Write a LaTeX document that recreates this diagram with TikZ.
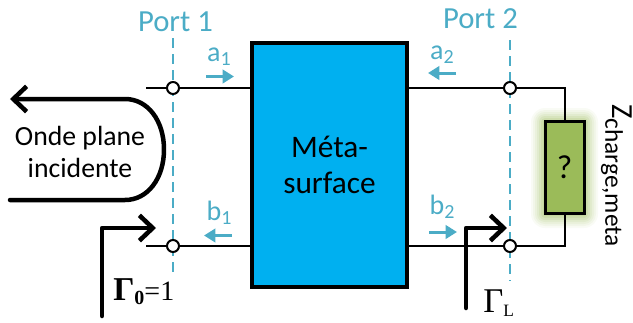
\documentclass[tikz,border=0pt]{standalone}
\usepackage{fontspec}
\setmainfont{Carlito}
\newfontfamily\gamfont{Liberation Serif}
\usetikzlibrary{arrows.meta}
\definecolor{portblue}{HTML}{4BACC6}
\definecolor{blockblue}{HTML}{00B0F0}
\definecolor{loadgreen}{HTML}{9BBB59}
\newcommand{\lowsub}[2]{\raisebox{#1}{#2}}
\tikzset{
  px/.style={line width=#1*0.75pt},
  portline/.style={portblue,px=2,dash pattern=on 7.5pt off 4.5pt},
  wire/.style={black,px=2},
  terminal/.style={circle,draw=black,fill=white,px=2,minimum size=9pt,inner sep=0pt},
  bigarrow/.style={black,px=4.5,line cap=round,line join=round,-{Straight Barb[length=10pt,width=19pt,line width=3.4pt]}},
  wavearrow/.style={bigarrow},
  smallarrow/.style={portblue,px=3,-{Triangle[length=8.5pt,width=10pt]}},
  porttext/.style={portblue,font=\fontsize{23}{23}\selectfont,inner sep=0pt},
  abtext/.style={portblue,font=\fontsize{21}{21}\selectfont,inner sep=0pt},
  wavetext/.style={black,font=\fontsize{20.8}{24}\selectfont,inner sep=0pt,align=center},
  gam/.style={black,font=\gamfont\fontsize{21}{21}\selectfont,inner sep=0pt}
}
\begin{document}
\begin{tikzpicture}[x=0.75pt,y=-0.75pt]
\useasboundingbox (0,0) rectangle (633,322);
% glow
\foreach \g/\o in {14/0.06,12/0.08,10/0.09,8/0.11,6/0.14,4/0.16,2/0.18}{
  \fill[loadgreen,opacity=\o,rounded corners=\g*0.75pt] (545-\g,122-\g) rectangle (584+\g,214+\g);
}
% port lines
\coordinate (p1t) at (173,38); \coordinate (p1b) at (173,277);
\coordinate (p2t) at (510,40); \coordinate (p2b) at (510,281);
\draw[portline] (p1t) -- (p1b);
\draw[portline] (p2t) -- (p2b);
% block
\node[draw=black,fill=blockblue,px=3.5,outer sep=0pt,minimum width=116.25pt,minimum height=183pt,inner sep=0pt,
  anchor=north west,align=center,font=\fontsize{23.5}{27}\selectfont] (ms) at (252,43) {Méta-\\surface};
% terminals
\node[terminal] (t1) at (173,88) {};
\node[terminal] (t2) at (173,246) {};
\node[terminal] (t3) at (510,88) {};
\node[terminal] (t4) at (510,246) {};
\coordinate (w1) at (146,88); \coordinate (w2) at (146,246);
\coordinate (m1) at (252,88); \coordinate (m2) at (252,246);
\coordinate (m3) at (407,88); \coordinate (m4) at (405,246);
\coordinate (c3) at (565,88); \coordinate (c4) at (565,246);
\draw[wire] (w1) -- (t1); \draw[wire] (t1) -- (m1);
\draw[wire] (w2) -- (t2); \draw[wire] (t2) -- (m2);
\draw[wire] (m3) -- (t3); \draw[wire] (m4) -- (t4);
% load
\node[draw=black,fill=loadgreen,px=3,outer sep=0pt,minimum width=29.25pt,minimum height=69pt,inner sep=0pt,
  font=\fontsize{25}{25}\selectfont] (load) at (564.5,167.5) {?};
\draw[wire] (t3) -- (c3) -- (load.north -| c3);
\draw[wire] (t4) -- (c4) -- (load.south -| c4);
% wave
\coordinate (wa) at (10,99); \coordinate (wb) at (10,200);
\draw[wavearrow] (wb) -- (125,200) .. controls (148,200) and (164,178) .. (164,149.5) .. controls (164,121) and (148,99) .. (125,99) -- (wa);
\node[wavetext] (wt) at (80,152) {Onde plane\\incidente};
% Gamma arrows
\coordinate (g0a) at (102,316); \coordinate (g0b) at (102,228); \coordinate (g0c) at (156,228);
\draw[bigarrow] (g0a) -- (g0b) -- (g0c);
\coordinate (gla) at (466,308); \coordinate (glb) at (466,228); \coordinate (glc) at (507,228);
\draw[bigarrow] (gla) -- (glb) -- (glc);
\node[gam,anchor=base west] (g0t) at (113,300) {{\fontsize{25}{25}\selectfont\textbf{Γ}}\lowsub{-3pt}{\fontsize{15}{15}\selectfont\textbf{0}}=1};
\node[gam,anchor=base west] (glt) at (483,312) {{\fontsize{26}{26}\selectfont Γ}\lowsub{-3pt}{\fontsize{13}{13}\selectfont L}};
% port labels
\node[porttext] (p1) at (175.5,22) {Port 1};
\node[porttext] (p2) at (480.5,19) {Port 2};
% a,b labels
\node[abtext] (a1) at (219,57) {a\lowsub{-3pt}{\fontsize{15}{15}\selectfont 1}};
\node[abtext] (b1) at (219,213) {b\lowsub{-3pt}{\fontsize{15}{15}\selectfont 1}};
\node[abtext] (a2) at (442,55) {a\lowsub{-3pt}{\fontsize{15}{15}\selectfont 2}};
\node[abtext] (b2) at (442,207) {b\lowsub{-3pt}{\fontsize{15}{15}\selectfont 2}};
\coordinate (s1a) at (206,76.5); \coordinate (s1b) at (234,76.5);
\coordinate (s2a) at (232,235.5); \coordinate (s2b) at (204,235.5);
\coordinate (s3a) at (456,73); \coordinate (s3b) at (428,73);
\coordinate (s4a) at (429,232); \coordinate (s4b) at (457,232);
\draw[smallarrow] (s1a) -- (s1b);
\draw[smallarrow] (s2a) -- (s2b);
\draw[smallarrow] (s3a) -- (s3b);
\draw[smallarrow] (s4a) -- (s4b);
% Z label
\node[black,rotate=-90,anchor=base west,inner sep=0pt,font=\fontsize{23}{23}\selectfont] (z) at (612,104) {Z\lowsub{-5pt}{\fontsize{19}{19}\selectfont charge,meta}};
\end{tikzpicture}
\end{document}
